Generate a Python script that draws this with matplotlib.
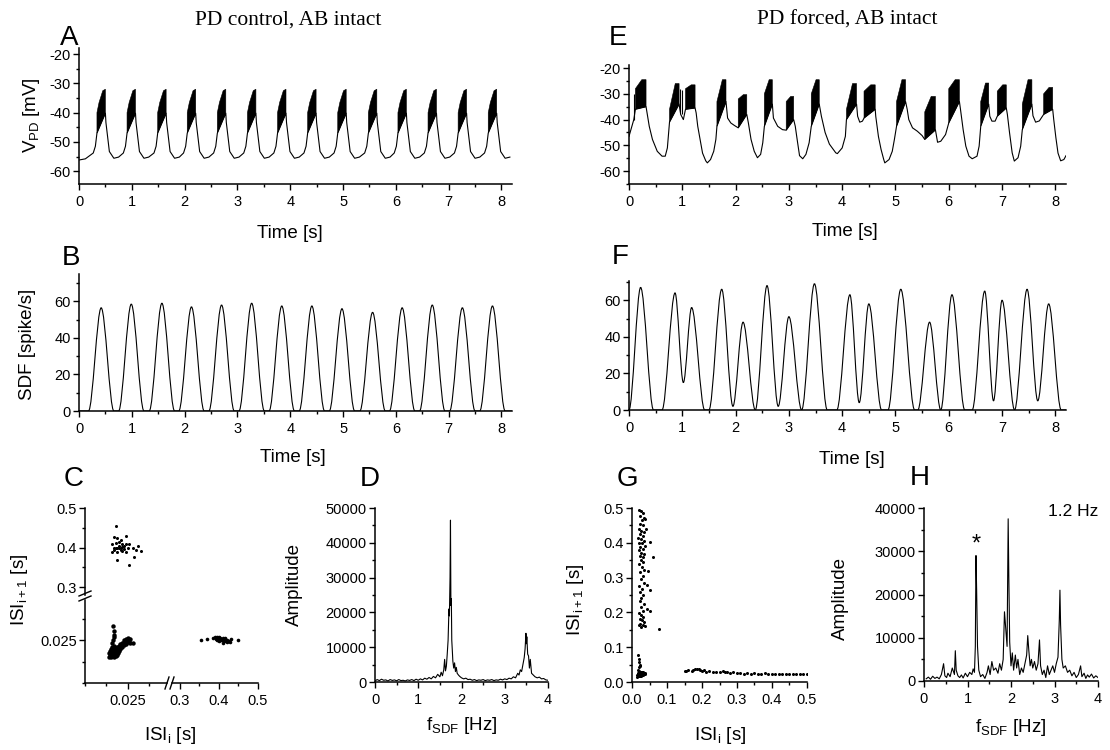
import numpy as np
import matplotlib
matplotlib.use("Agg")
import matplotlib.pyplot as plt
from matplotlib.path import Path
from matplotlib.patches import PathPatch
from matplotlib.lines import Line2D
from matplotlib.ticker import MultipleLocator, FormatStrFormatter

plt.rcParams['font.family'] = ['Liberation Sans', 'DejaVu Sans']
plt.rcParams['mathtext.fontset'] = 'custom'
plt.rcParams['mathtext.rm'] = 'Liberation Sans'
plt.rcParams['axes.unicode_minus'] = False

# ---------------- data ----------------
# A: PD control membrane potential, burst centres and one cycle shape
a_centres = [0.42, 0.99, 1.57, 2.13, 2.70, 3.27, 3.84, 4.41, 4.98, 5.56, 6.12, 6.69, 7.26, 7.83]
a_wave_dt = [-0.15, -0.11, -0.08, 0.08, 0.09, 0.155, 0.24, 0.33]
a_wave_v = [-53.8, -51.5, -47.0, -40.2, -43.4, -53.3, -55.6, -55.2]
a_burst_dt = [-0.08, -0.08, -0.04, 0.03, 0.08, 0.08]
a_burst_v = [-47.0, -40.0, -36.5, -32.5, -32.0, -40.2]

# E: PD forced, slow wave nodes (incl. lower edge of bursts)
e_t = [0.00, 0.09, 0.12, 0.32, 0.38, 0.44, 0.53, 0.62, 0.68, 0.72,
       0.76, 0.94, 0.97, 1.02, 1.06, 1.24, 1.26, 1.29, 1.34, 1.38,
       1.44, 1.47, 1.53, 1.59, 1.63, 1.65, 1.82, 1.85, 1.91, 1.98,
       2.05, 2.21, 2.24, 2.29, 2.35, 2.41, 2.47, 2.51, 2.54, 2.69,
       2.71, 2.79, 2.88, 2.95, 3.09, 3.12, 3.16, 3.20, 3.26, 3.32,
       3.38, 3.42, 3.57, 3.61, 3.68, 3.76, 3.88, 3.91, 4.00, 4.06,
       4.08, 4.27, 4.29, 4.33, 4.38, 4.41, 4.62, 4.63, 4.68, 4.73,
       4.78, 4.80, 4.88, 4.94, 4.98, 5.02, 5.19, 5.22, 5.25, 5.32,
       5.41, 5.50, 5.55, 5.75, 5.79, 5.85, 5.94, 6.00, 6.20, 6.22,
       6.27, 6.32, 6.38, 6.44, 6.53, 6.57, 6.60, 6.75, 6.77, 6.81,
       6.87, 6.91, 7.08, 7.10, 7.14, 7.19, 7.23, 7.30, 7.35, 7.38,
       7.56, 7.58, 7.63, 7.70, 7.78, 7.95, 7.97, 8.01, 8.05, 8.10,
       8.16, 8.20]
e_v = [-46.5, -40.0, -36.0, -35.0, -42.6, -47.7, -52.3, -54.2, -54.2, -51.0,
       -41.0, -34.0, -38.0, -40.0, -36.0, -35.5, -37.4, -42.6, -48.4, -53.0,
       -56.0, -56.8, -55.5, -52.3, -47.7, -42.6, -33.0, -39.4, -41.3, -42.3,
       -43.2, -38.0, -41.3, -47.7, -52.3, -54.8, -53.5, -49.0, -42.6, -34.0,
       -39.4, -42.6, -43.9, -44.1, -40.0, -42.6, -48.4, -54.0, -55.2, -53.5,
       -49.0, -42.6, -34.0, -38.7, -45.0, -49.5, -52.9, -53.2, -51.0, -46.5,
       -40.0, -34.0, -38.7, -41.0, -40.6, -39.4, -36.0, -38.7, -46.5, -51.6,
       -55.5, -56.8, -55.5, -52.3, -47.7, -42.6, -33.0, -36.0, -40.0, -43.2,
       -44.5, -46.2, -47.7, -44.0, -48.8, -48.4, -45.8, -41.3, -33.0, -36.0,
       -43.9, -50.3, -54.2, -55.2, -54.2, -50.3, -42.6, -34.0, -38.7, -40.6,
       -40.6, -38.7, -35.5, -38.0, -45.0, -52.9, -56.1, -54.8, -50.3, -43.9,
       -34.0, -38.5, -41.0, -40.5, -38.0, -36.0, -40.0, -47.0, -53.0, -56.0,
       -55.5, -54.0]
e_burst_start = [0.12, 0.76, 1.06, 1.65, 2.05, 2.54, 2.95, 3.42, 4.08, 4.41, 5.02, 5.55, 6.00, 6.60, 6.91, 7.38, 7.78]
e_burst_end = [0.32, 0.94, 1.24, 1.82, 2.21, 2.69, 3.09, 3.57, 4.27, 4.62, 5.19, 5.75, 6.20, 6.75, 7.08, 7.56, 7.95]
e_burst_top0 = [-28, -36, -28, -33, -32, -30, -33, -30, -36, -29, -33, -37, -28, -33, -29, -34, -30]
e_burst_top1 = [-24.5, -26, -26.5, -24.5, -30.3, -24.5, -31, -24.5, -26, -26.5, -24.5, -31, -24.5, -25.8, -26.5, -24.5, -27.5]
e_spike_t = [0.10, 0.96, 0.99]
e_spike_lo = [-40, -37, -38]
e_spike_hi = [-30, -28, -28.5]

# B: SDF peaks, control
b_peak_t = [0.42, 0.99, 1.57, 2.13, 2.70, 3.27, 3.84, 4.41, 4.98, 5.56, 6.12, 6.69, 7.26, 7.83]
b_peak_h = [56.5, 58.5, 59.0, 57.0, 58.0, 59.0, 57.5, 57.5, 56.0, 54.0, 56.5, 58.0, 56.5, 57.5]

# F: SDF peaks and troughs, forced
f_t = [0.0, 0.218, 0.46, 0.62, 0.864, 1.02, 1.175, 1.42, 1.50, 1.74, 1.95, 2.14, 2.37, 2.59,
       2.80, 3.0, 3.24, 3.48, 3.72, 3.90, 4.145, 4.32, 4.50, 4.74, 4.86, 5.10, 5.36, 5.42,
       5.64, 5.85, 6.06, 6.30, 6.44, 6.675, 6.84, 7.0, 7.235, 7.47, 7.67, 7.875, 8.11, 8.2]
f_v = [0, 67, 0, 0, 64, 15, 56, 0, 0, 66, 2, 48, 0, 68,
       2, 51, 0, 69, 0, 0, 63, 4, 58, 0, 0, 66, 0, 0,
       48, 0, 63, 0, 0, 65, 5, 60, 0, 66, 5, 58, 0, 0]

# C: ISI return map, control (three clusters)
c_ul_x = [0.018, 0.017, 0.019, 0.024, 0.016, 0.018, 0.020, 0.022, 0.024, 0.017, 0.020, 0.023,
          0.025, 0.019, 0.016, 0.028, 0.030, 0.033, 0.031, 0.019, 0.029, 0.026, 0.021, 0.022,
          0.023, 0.019, 0.018, 0.021, 0.020, 0.022, 0.017, 0.024, 0.026, 0.021]
c_ul_y = [0.454, 0.427, 0.425, 0.428, 0.410, 0.412, 0.405, 0.402, 0.408, 0.395, 0.398, 0.396,
          0.400, 0.390, 0.388, 0.398, 0.395, 0.392, 0.405, 0.368, 0.375, 0.357, 0.400, 0.410,
          0.404, 0.400, 0.400, 0.395, 0.415, 0.392, 0.400, 0.390, 0.410, 0.420]
c_ll_x = [0.0140, 0.0145, 0.0150, 0.0155, 0.0160, 0.0165, 0.0170, 0.0175, 0.0180, 0.0185,
          0.0190, 0.0195, 0.0142, 0.0148, 0.0155, 0.0160, 0.0168, 0.0175, 0.0182, 0.0190,
          0.0198, 0.0150, 0.0158, 0.0165, 0.0172, 0.0180, 0.0188, 0.0195, 0.0203, 0.0208,
          0.0210, 0.0215, 0.0220, 0.0225, 0.0230, 0.0235, 0.0240, 0.0245, 0.0250, 0.0255,
          0.0260, 0.0265, 0.0240, 0.0250, 0.0228, 0.0218, 0.0262, 0.0285, 0.0200, 0.0205,
          0.0160, 0.0165, 0.0170, 0.0172, 0.0168, 0.0162]
c_ll_y = [0.0150, 0.0160, 0.0150, 0.0165, 0.0155, 0.0170, 0.0150, 0.0160, 0.0170, 0.0155,
          0.0165, 0.0175, 0.0175, 0.0185, 0.0180, 0.0195, 0.0185, 0.0190, 0.0180, 0.0190,
          0.0185, 0.0200, 0.0210, 0.0205, 0.0215, 0.0200, 0.0210, 0.0200, 0.0195, 0.0205,
          0.0215, 0.0225, 0.0210, 0.0230, 0.0220, 0.0240, 0.0228, 0.0250, 0.0240, 0.0255,
          0.0245, 0.0235, 0.0255, 0.0262, 0.0248, 0.0235, 0.0258, 0.0232, 0.0215, 0.0225,
          0.0235, 0.0250, 0.0265, 0.0280, 0.0300, 0.0330]
c_lr_x = [0.355, 0.370, 0.385, 0.390, 0.395, 0.398, 0.400, 0.402, 0.405, 0.408, 0.410, 0.412,
          0.415, 0.418, 0.420, 0.425, 0.430, 0.400, 0.395, 0.410, 0.415, 0.405, 0.420, 0.450,
          0.392, 0.428]
c_lr_y = [0.0250, 0.0255, 0.0260, 0.0270, 0.0265, 0.0250, 0.0245, 0.0260, 0.0252, 0.0248,
          0.0262, 0.0243, 0.0255, 0.0247, 0.0252, 0.0245, 0.0255, 0.0268, 0.0248, 0.0235,
          0.0262, 0.0258, 0.0240, 0.0250, 0.0255, 0.0238]

# G: ISI return map, forced
g_x = [0.020, 0.025, 0.030, 0.022, 0.034, 0.028, 0.038, 0.024, 0.031, 0.020, 0.027, 0.035,
       0.023, 0.030, 0.018, 0.026, 0.033, 0.021, 0.029, 0.036, 0.024, 0.031, 0.019, 0.027,
       0.034, 0.022, 0.030, 0.025, 0.032, 0.020, 0.028, 0.035, 0.023, 0.030, 0.026, 0.033,
       0.021, 0.029, 0.024, 0.031, 0.027, 0.022, 0.034, 0.026, 0.030, 0.020, 0.025, 0.032,
       0.022, 0.028, 0.035, 0.024, 0.030, 0.038, 0.020, 0.026,
       0.050, 0.059, 0.050, 0.052, 0.042, 0.044, 0.077, 0.040, 0.045,
       0.015, 0.018, 0.020, 0.022, 0.025, 0.028, 0.030, 0.033, 0.035, 0.016, 0.019, 0.021,
       0.024, 0.027, 0.031, 0.018, 0.020, 0.022, 0.019, 0.021, 0.018, 0.023, 0.026, 0.029,
       0.032, 0.014, 0.017, 0.023, 0.036, 0.038,
       0.150, 0.160, 0.170, 0.180, 0.185, 0.190, 0.195, 0.200, 0.210, 0.220, 0.230, 0.240,
       0.250, 0.260, 0.265, 0.270, 0.280, 0.290, 0.300, 0.310, 0.320, 0.330, 0.340, 0.350,
       0.360, 0.370, 0.380, 0.390, 0.400, 0.410, 0.420, 0.430, 0.440, 0.450, 0.460, 0.470,
       0.480, 0.490, 0.500, 0.175, 0.155, 0.205]
g_y = [0.495, 0.490, 0.485, 0.478, 0.470, 0.465, 0.468, 0.455, 0.450, 0.440, 0.435, 0.430,
       0.425, 0.420, 0.415, 0.410, 0.405, 0.400, 0.398, 0.392, 0.388, 0.382, 0.378, 0.372,
       0.368, 0.362, 0.358, 0.350, 0.345, 0.340, 0.330, 0.322, 0.315, 0.305, 0.295, 0.285,
       0.275, 0.268, 0.258, 0.250, 0.240, 0.232, 0.225, 0.215, 0.205, 0.198, 0.192, 0.188,
       0.182, 0.178, 0.172, 0.168, 0.163, 0.160, 0.165, 0.158,
       0.402, 0.360, 0.265, 0.205, 0.210, 0.280, 0.153, 0.440, 0.320,
       0.015, 0.020, 0.018, 0.022, 0.020, 0.024, 0.022, 0.025, 0.023, 0.025, 0.028, 0.032,
       0.027, 0.018, 0.019, 0.035, 0.042, 0.050, 0.058, 0.065, 0.078, 0.045, 0.030, 0.028,
       0.030, 0.020, 0.016, 0.016, 0.027, 0.022,
       0.032, 0.034, 0.033, 0.036, 0.038, 0.037, 0.035, 0.033, 0.030, 0.031, 0.029, 0.028,
       0.030, 0.032, 0.028, 0.030, 0.027, 0.028, 0.026, 0.025, 0.024, 0.026, 0.024, 0.025,
       0.023, 0.024, 0.025, 0.023, 0.024, 0.023, 0.024, 0.022, 0.023, 0.024, 0.022, 0.023,
       0.022, 0.023, 0.022, 0.035, 0.033, 0.034]

# D: SDF spectrum, control
d_f = [0.0, 0.05, 0.1, 0.15, 0.2, 0.25, 0.3, 0.35, 0.4, 0.45, 0.5, 0.55, 0.6, 0.65, 0.7, 0.75,
       0.8, 0.85, 0.9, 0.95, 1.0, 1.05, 1.1, 1.15, 1.2, 1.25, 1.3, 1.35, 1.4, 1.45, 1.5, 1.53,
       1.56, 1.59, 1.61, 1.63, 1.65, 1.67, 1.69, 1.71, 1.72, 1.735, 1.745, 1.755, 1.765, 1.775,
       1.79, 1.80, 1.82, 1.84, 1.86, 1.88, 1.90, 1.93, 1.96, 2.0, 2.05, 2.1, 2.15, 2.2, 2.25,
       2.3, 2.35, 2.4, 2.45, 2.5, 2.55, 2.6, 2.65, 2.7, 2.75, 2.8, 2.85, 2.9, 2.95, 3.0, 3.05,
       3.1, 3.15, 3.2, 3.25, 3.3, 3.33, 3.36, 3.39, 3.42, 3.45, 3.47, 3.49, 3.5, 3.51, 3.53,
       3.55, 3.57, 3.59, 3.62, 3.66, 3.7, 3.75, 3.8, 3.85, 3.9, 3.95, 4.0]
d_amp = [300, 700, 400, 800, 500, 600, 300, 700, 450, 600, 350, 700, 400, 500, 300, 600,
         450, 700, 400, 800, 500, 900, 600, 1100, 800, 1300, 900, 1600, 1200, 2200, 1500, 2800,
         1800, 3500, 6500, 3200, 4500, 8000, 12000, 21000, 19000, 30000, 46500, 22000, 24000, 12000,
         8500, 6000, 4000, 5500, 3000, 4200, 2500, 2000, 1600, 1200, 900, 1100, 700, 800, 500,
         700, 400, 600, 500, 700, 400, 600, 500, 700, 400, 600, 500, 800, 600, 900, 700,
         1100, 900, 1500, 1200, 2500, 2000, 3500, 3000, 5000, 7000, 9500, 14000, 11000, 13000, 8000,
         7500, 4000, 6500, 2500, 2000, 1500, 1200, 1400, 900, 1000, 600, 500]

# H: SDF spectrum, forced
h_f = [0.05, 0.1, 0.15, 0.2, 0.25, 0.3, 0.35, 0.4, 0.45, 0.48, 0.52, 0.55, 0.6, 0.65, 0.7, 0.72,
       0.74, 0.78, 0.82, 0.86, 0.9, 0.95, 1.0, 1.05, 1.1, 1.13, 1.16, 1.18, 1.195, 1.21, 1.23, 1.26,
       1.3, 1.35, 1.4, 1.45, 1.48, 1.52, 1.56, 1.6, 1.65, 1.7, 1.74, 1.78, 1.82, 1.85, 1.88, 1.91,
       1.935, 1.95, 1.97, 2.0, 2.03, 2.06, 2.1, 2.13, 2.16, 2.2, 2.24, 2.28, 2.32, 2.36, 2.385, 2.41,
       2.44, 2.47, 2.5, 2.54, 2.58, 2.62, 2.655, 2.68, 2.72, 2.76, 2.8, 2.84, 2.88, 2.92, 2.96, 3.0,
       3.04, 3.08, 3.11, 3.125, 3.14, 3.17, 3.2, 3.25, 3.3, 3.35, 3.4, 3.45, 3.5, 3.55, 3.6, 3.63,
       3.68, 3.72, 3.76, 3.8, 3.85, 3.9, 3.95, 4.0]
h_amp = [500, 900, 400, 1100, 600, 900, 500, 1500, 4000, 1200, 800, 1800, 1000, 3000, 1500, 7000,
         2500, 1200, 800, 1400, 700, 1800, 1000, 2000, 1500, 2800, 2000, 8000, 29000, 21000, 8000, 2500,
         1000, 1500, 600, 2000, 3500, 1500, 4500, 2500, 3000, 1800, 4000, 2500, 5000, 16000, 12000, 8000,
         37500, 24000, 9000, 3500, 6500, 2500, 6000, 3000, 5000, 1500, 3000, 2000, 4000, 6000, 10500, 7000,
         3500, 5000, 3000, 4500, 2500, 4000, 9500, 3500, 1500, 2500, 800, 3500, 1500, 2500, 3500, 2000,
         4000, 5500, 14000, 21000, 13000, 5000, 3000, 3500, 2000, 2500, 1200, 2000, 800, 1500, 3500, 1000,
         1800, 600, 1400, 900, 1600, 700, 1200, 800]

# ---------------- layout helpers (pixel boxes of the 1110x750 picture) ----------------
W, H = 1110, 750
fig = plt.figure(figsize=(W / 100, H / 100), dpi=100)


def box(l, t, r, b):
    return [l / W, 1 - b / H, (r - l) / W, (b - t) / H]


def ftext(x, y, s, **kw):
    kw.setdefault('ha', 'center')
    kw.setdefault('va', 'center')
    fig.text(x / W, 1 - y / H, s, **kw)


def fline(xs, ys):
    fig.add_artist(Line2D([x / W for x in xs], [1 - y / H for y in ys],
                          transform=fig.transFigure, color='k', lw=1.0))


def style(ax, xmaj=None, xmin=None, ymaj=None, ymin=None):
    ax.spines['top'].set_visible(False)
    ax.spines['right'].set_visible(False)
    for s in ('left', 'bottom'):
        ax.spines[s].set_linewidth(1.1)
    if xmaj:
        ax.xaxis.set_major_locator(MultipleLocator(xmaj))
    if xmin:
        ax.xaxis.set_minor_locator(MultipleLocator(xmin))
    if ymaj:
        ax.yaxis.set_major_locator(MultipleLocator(ymaj))
    if ymin:
        ax.yaxis.set_minor_locator(MultipleLocator(ymin))
    ax.tick_params(which='both', direction='out', width=1.0, labelsize=10.5)
    ax.tick_params(which='major', length=4)
    ax.tick_params(which='minor', length=2.3)
    ax.tick_params(axis='x', pad=4)
    ax.tick_params(axis='y', pad=2)


def smooth_curve(ax, t, v):
    verts = [(t[0], v[0])]
    codes = [Path.MOVETO]
    for i in range(len(t) - 1):
        d = (t[i + 1] - t[i]) / 3.0
        verts += [(t[i] + d, v[i]), (t[i + 1] - d, v[i + 1]), (t[i + 1], v[i + 1])]
        codes += [Path.CURVE4] * 3
    ax.add_patch(PathPatch(Path(verts, codes), fill=False, color='k', lw=0.8))


sans_lbl = 13.5
letter = 20

# ---------------- A ----------------
axA = fig.add_axes(box(79, 48, 512, 184))
style(axA, 1, 0.5, 10, 5)
at = [0.0, 0.12]
av = [-56.2, -55.8]
for c in a_centres:
    at += [c + d for d in a_wave_dt]
    av += a_wave_v
axA.plot(at, av, color='k', lw=0.8)
for c in a_centres:
    axA.fill([c + d for d in a_burst_dt], a_burst_v, color='k', lw=0.4)
axA.set_xlim(0, 8.2)
axA.set_ylim(-64.4, -17.9)

# ---------------- E ----------------
axE = fig.add_axes(box(629, 65, 1066, 184))
style(axE, 1, 0.5, 10, 5)
et = np.array(e_t)
ev = np.array(e_v)
axE.plot(et, ev, color='k', lw=0.8)
for t0, t1, y0, y1 in zip(e_burst_start, e_burst_end, e_burst_top0, e_burst_top1):
    m = (et >= t0 - 1e-9) & (et <= t1 + 1e-9)
    px = list(et[m]) + [t1, t0 + 0.6 * (t1 - t0), t0]
    py = list(ev[m]) + [y1, y1, y0]
    axE.fill(px, py, color='k', lw=0.4)
axE.vlines(e_spike_t, e_spike_lo, e_spike_hi, color='k', lw=0.8)
axE.set_xlim(0, 8.2)
axE.set_ylim(-65.0, -18.8)

# ---------------- B ----------------
axB = fig.add_axes(box(79, 274, 512, 411))
style(axB, 1, 0.5, 20, 10)
bt = [0.0]
bv = [0.0]
for tp, hp in zip(b_peak_t, b_peak_h):
    bt += [tp - 0.24, tp, tp + 0.24]
    bv += [0.0, hp, 0.0]
bt.append(8.2)
bv.append(0.0)
smooth_curve(axB, bt, bv)
axB.set_xlim(0, 8.2)
axB.set_ylim(0, 75)

# ---------------- F ----------------
axF = fig.add_axes(box(629, 281, 1066, 410))
style(axF, 1, 0.5, 20, 10)
smooth_curve(axF, f_t, f_v)
axF.set_xlim(0, 8.2)
axF.set_ylim(0, 70.5)

# ---------------- C (broken axes) ----------------
axC1 = fig.add_axes(box(85, 597, 170, 683))   # small / small
axC2 = fig.add_axes(box(85, 508, 170, 597))   # small / large
axC3 = fig.add_axes(box(170, 597, 258, 683))  # large / small
for ax in (axC1, axC2, axC3):
    style(ax)
    ax.patch.set_alpha(0)
axC1.plot(c_ll_x, c_ll_y, ls='none', marker='o', ms=3.2, mfc='k', mec='k', mew=0)
axC2.plot(c_ul_x, c_ul_y, ls='none', marker='o', ms=2.2, mfc='k', mec='k', mew=0)
axC3.plot(c_lr_x, c_lr_y, ls='none', marker='o', ms=2.6, mfc='k', mec='k', mew=0)

axC1.set_xlim(0, 0.05)
axC1.set_ylim(0, 0.05)
axC1.set_xticks([0.025])
axC1.set_xticklabels(['0.025'])
axC1.set_xticks([0, 0.0125, 0.0375], minor=True)
axC1.set_yticks([0.025])
axC1.set_yticklabels(['0.025'])
axC1.set_yticks([0, 0.0125, 0.0375], minor=True)
axC1.spines['left'].set_bounds(0, 0.048)
axC1.spines['bottom'].set_bounds(0, 0.048)

axC2.set_xlim(0, 0.05)
axC2.set_ylim(0.275, 0.5)
axC2.spines['bottom'].set_visible(False)
axC2.tick_params(axis='x', which='both', bottom=False, labelbottom=False)
axC2.set_yticks([0.3, 0.4, 0.5])
axC2.set_yticks([0.35, 0.45], minor=True)
axC2.yaxis.set_major_formatter(FormatStrFormatter('%.1f'))
axC2.spines['left'].set_bounds(0.281, 0.5)

axC3.set_xlim(0.275, 0.5)
axC3.set_ylim(0, 0.05)
axC3.spines['left'].set_visible(False)
axC3.tick_params(axis='y', which='both', left=False, labelleft=False)
axC3.set_xticks([0.3, 0.4, 0.5])
axC3.set_xticks([0.35, 0.45], minor=True)
axC3.xaxis.set_major_formatter(FormatStrFormatter('%.1f'))
axC3.spines['bottom'].set_bounds(0.281, 0.5)

# break marks
fline([79, 91], [596, 591])
fline([79, 91], [601, 596])
fline([165, 169], [689, 677])
fline([170, 174], [689, 677])

# ---------------- D ----------------
axD = fig.add_axes(box(375, 508, 548, 682))
style(axD, 1, 0.5, 10000, 5000)
axD.plot(d_f, d_amp, color='k', lw=0.8)
axD.set_xlim(0, 4)
axD.set_ylim(0, 50000)

# ---------------- G ----------------
axG = fig.add_axes(box(632, 508, 807, 682))
style(axG, 0.1, 0.05, 0.1, 0.05)
axG.plot(g_x, g_y, ls='none', marker='o', ms=2.2, mfc='k', mec='k', mew=0)
axG.set_xlim(0, 0.5)
axG.set_ylim(0, 0.5)
axG.xaxis.set_major_formatter(FormatStrFormatter('%.1f'))
axG.yaxis.set_major_formatter(FormatStrFormatter('%.1f'))

# ---------------- H ----------------
axH = fig.add_axes(box(924, 508, 1098, 681))
style(axH, 1, 0.5, 10000, 5000)
axH.plot(h_f, h_amp, color='k', lw=0.8)
axH.set_xlim(0, 4)
axH.set_ylim(0, 40000)
axH.text(1.2, 31500, '*', ha='center', va='center', fontsize=17)

# ---------------- text ----------------
ftext(288, 20, 'PD control, AB intact', family=['Liberation Serif', 'DejaVu Serif'], fontsize=15.5)
ftext(847, 20, 'PD forced, AB intact', family=['Liberation Serif', 'DejaVu Serif'], fontsize=15.5)

for s, x, y in [('A', 69, 38), ('E', 618, 38), ('B', 71, 258), ('F', 620, 257),
                ('C', 74, 479), ('D', 370, 479), ('G', 627, 479), ('H', 920, 478)]:
    ftext(x, y, s, fontsize=letter)

ftext(32, 115, r'$\mathrm{V_{PD}}$ [mV]', rotation=90, fontsize=sans_lbl)
ftext(27, 344, 'SDF [spike/s]', rotation=90, fontsize=sans_lbl)
ftext(290, 234, 'Time [s]', fontsize=sans_lbl)
ftext(845, 231, 'Time [s]', fontsize=sans_lbl)
ftext(293, 458, 'Time [s]', fontsize=sans_lbl)
ftext(852, 460, 'Time [s]', fontsize=sans_lbl)

ftext(20, 590, r'ISI$_{\mathrm{i+1}}$ [s]', rotation=90, fontsize=sans_lbl)
ftext(170, 736, r'ISI$_{\mathrm{i}}$ [s]', fontsize=sans_lbl)
ftext(294, 585, 'Amplitude', rotation=90, fontsize=sans_lbl)
ftext(462, 726, r'f$_{\mathrm{SDF}}$ [Hz]', fontsize=sans_lbl)
ftext(576, 600, r'ISI$_{\mathrm{i+1}}$ [s]', rotation=90, fontsize=sans_lbl)
ftext(720, 736, r'ISI$_{\mathrm{i}}$ [s]', fontsize=sans_lbl)
ftext(840, 598, 'Amplitude', rotation=90, fontsize=sans_lbl)
ftext(1011, 727, r'f$_{\mathrm{SDF}}$ [Hz]', fontsize=sans_lbl)
ftext(1073, 511, '1.2 Hz', fontsize=12.5)

fig.savefig('out.png', dpi=100)
